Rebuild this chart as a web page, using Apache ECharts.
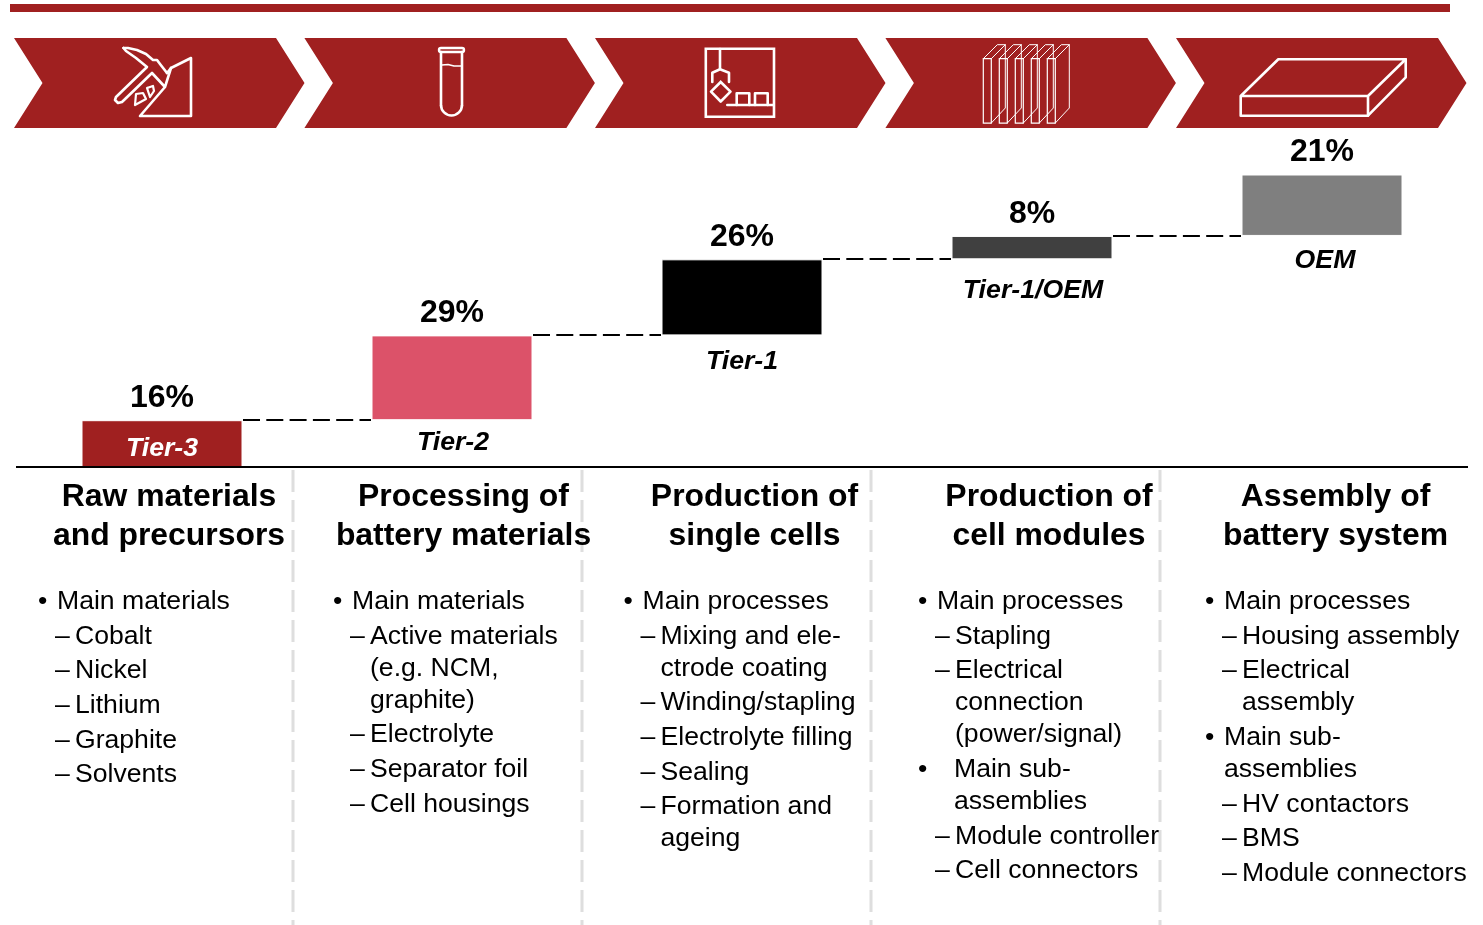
<!DOCTYPE html>
<html>
<head>
<meta charset="utf-8">
<style>html,body{margin:0;padding:0;background:#fff}#c{width:1483px;height:925px}</style>
<script src="https://cdn.jsdelivr.net/npm/echarts@6/dist/echarts.min.js"></script>
</head>
<body>
<div id="c"></div>
<script>
// ---- data ----
const categories = ['Tier-3', 'Tier-2', 'Tier-1', 'Tier-1/OEM', 'OEM'];
const shares = [16, 29, 26, 8, 21];
const barColors = ['#A02020', '#DC5269', '#000000', '#404040', '#7F7F7F'];
const headings = [
  ['Raw materials', 'and precursors'],
  ['Processing of', 'battery materials'],
  ['Production of', 'single cells'],
  ['Production of', 'cell modules'],
  ['Assembly of', 'battery system']
];
// [level, text]; level 0 = bullet, 1 = dash, 2 = continuation of dash, 3 = continuation of bullet, 4 = bullet with wide indent
const listRaw = [[0,'Main materials'],[1,'Cobalt'],[1,'Nickel'],[1,'Lithium'],[1,'Graphite'],[1,'Solvents']];
const listProcessing = [[0,'Main materials'],[1,'Active materials'],[2,'(e.g. NCM,'],[2,'graphite)'],[1,'Electrolyte'],[1,'Separator foil'],[1,'Cell housings']];
const listCells = [[0,'Main processes'],[1,'Mixing and ele-'],[2,'ctrode coating'],[1,'Winding/stapling'],[1,'Electrolyte filling'],[1,'Sealing'],[1,'Formation and'],[2,'ageing']];
const listModules = [[0,'Main processes'],[1,'Stapling'],[1,'Electrical'],[2,'connection'],[2,'(power/signal)'],[4,'Main sub-'],[3,'assemblies'],[1,'Module controller'],[1,'Cell connectors']];
const listSystem = [[0,'Main processes'],[1,'Housing assembly'],[1,'Electrical'],[2,'assembly'],[0,'Main sub-'],[3,'assemblies'],[1,'HV contactors'],[1,'BMS'],[1,'Module connectors']];

// ---- layout of text ----
const lists = [listRaw, listProcessing, listCells, listModules, listSystem];
const listY = [
  [602,637,671,706,741,775],
  [602,637,669,701,735,770,805],
  [602,637,669,703,738,773,807,839],
  [602,637,671,703,735,770,802,837,871],
  [602,637,671,703,738,770,805,839,874]
];
const listX = [38, 333, 623.5, 918, 1205];
const headingX = [169, 463.5, 754.5, 1049, 1335.5];
const tierPos = [[162,449,'#fff'],[453,443,'#000'],[742,362,'#000'],[1033,291,'#000'],[1325,261,'#000']];
const dividerX = [293, 582, 871, 1160];
const RED = '#A02020';
const FONT = '"Liberation Sans", Arial, sans-serif';

const cumulative = [];
shares.reduce((s, v, i) => (cumulative[i] = s + v), 0);
const bases = cumulative.map((c, i) => c - shares[i]);

const g = [];
const txt = (x, y, text, font, fill, align) => g.push({type:'text', silent:true, z:20, x, y,
  style:{text, font:font + ' ' + FONT, fill:fill || '#000', textAlign:align || 'left', textVerticalAlign:'middle'}});
const line = (pts, lw) => g.push({type:'polyline', silent:true, shape:{points:pts},
  style:{stroke:'#fff', fill:null, lineWidth:lw || 2.6, lineJoin:'round', lineCap:'round'}});

// top rule
g.push({type:'rect', silent:true, shape:{x:10,y:4,width:1440,height:8}, style:{fill:RED}});
// chevrons
[14, 304.4, 595, 885.4, 1176].forEach(x => g.push({type:'polygon', silent:true,
  shape:{points:[[x,38],[x+262,38],[x+290.5,83],[x+262,128],[x,128],[x+28.5,83]]}, style:{fill:RED}}));

// icon: pick and rock pile
line([[123.5,48],[128,48],[137,50],[146,54],[153,60],[157,60],[160,64],[167,73]]);
line([[123.5,48],[126,51],[136,58],[147,67],[116,97],[115,100],[118,103],[122,102],[152,73],[165,87],[140,116],[191,116],[191,58],[171,68],[165,87]]);
line([[167,73],[171,68]]);
line([[136,94],[143,93],[146,99],[135,105],[136,94]], 2.2);
line([[147,88],[153,86],[154,91],[150,97],[147,88]], 2.2);
// icon: test tube
g.push({type:'rect', silent:true, shape:{x:439,y:48,width:25,height:4,r:2}, style:{stroke:'#fff',fill:null,lineWidth:2.4}});
line([[441,52],[441,105]]);
line([[462,52],[462,105]]);
g.push({type:'arc', silent:true, shape:{cx:451.5,cy:105,r:10.5,startAngle:0,endAngle:Math.PI,clockwise:true}, style:{stroke:'#fff',fill:null,lineWidth:2.6}});
line([[442,65],[448,64.5],[454,66],[461,66]], 1.6);
// icon: cell production
g.push({type:'rect', silent:true, shape:{x:705.8,y:48.8,width:68.2,height:68}, style:{stroke:'#fff',fill:null,lineWidth:2.6}});
line([[720,49],[720,69]]);
line([[712.3,82],[712.3,72.7],[720,69.3],[729,72.7],[729,82]]);
line([[720.7,82],[730.5,91.7],[720.7,101.5],[711,91.7],[720.7,82]]);
line([[727.3,105],[773,105]]);
line([[736.7,105],[736.7,93.3],[749.3,93.3],[749.3,105]]);
line([[755,105],[755,93.3],[767.7,93.3],[767.7,105]]);
// icon: module stack
[983.3, 999.3, 1015.3, 1031.3, 1047.3].forEach(x => {
  g.push({type:'rect', silent:true, shape:{x,y:58.7,width:8,height:64.5}, style:{stroke:'#fff',fill:null,lineWidth:1.2}});
  line([[x,58.7],[x+14,44.7],[x+22,44.7],[x+8,58.7]], 1);
  line([[x+22,44.7],[x+22,108],[x+8,123]], 1);
});
// icon: battery pack
line([[1240.7,96],[1368,96],[1368,115.7],[1240.7,115.7],[1240.7,96],[1278.3,59.3],[1405.7,59.3],[1368,96]]);
line([[1405.7,59.3],[1405.7,77.3],[1368,115.7]]);

// tier labels
categories.forEach((c, i) => txt(tierPos[i][0], tierPos[i][1], c, 'italic bold 26.7px', tierPos[i][2], 'center'));
// column dividers
dividerX.forEach(x => g.push({type:'line', silent:true, shape:{x1:x,y1:470,x2:x,y2:925},
  style:{stroke:'#DEDEDE', lineWidth:3, lineDash:[22,8]}}));
// headings
headings.forEach((h, i) => {
  txt(headingX[i], 497, h[0], 'bold 31.9px', '#000', 'center');
  txt(headingX[i], 536, h[1], 'bold 31.9px', '#000', 'center');
});
// lists
lists.forEach((list, c) => list.forEach((row, r) => {
  const x0 = listX[c], y = listY[c][r], lv = row[0];
  if (lv === 0 || lv === 4) txt(x0, y, '\u2022', '26.6px');
  if (lv === 1) txt(x0 + 17, y, '\u2013', '26.6px');
  const tx = lv === 0 ? x0 + 19 : lv === 4 || lv === 3 ? x0 + (c === 3 ? 36 : 19) : x0 + 37;
  txt(tx, y, row[1], '26.6px');
}));

const chart = echarts.init(document.getElementById('c'), null, {renderer:'canvas'});
chart.setOption({
  animation:false,
  backgroundColor:'#fff',
  grid:{left:17, width:1450, top:174.5, height:292.5},
  xAxis:{type:'category', data:categories, z:5,
    axisLine:{show:true, lineStyle:{color:'#000', width:2, cap:'square'}},
    axisTick:{show:false}, axisLabel:{show:false}, splitLine:{show:false}},
  yAxis:{type:'value', min:0, max:100, show:false, splitLine:{show:false}},
  series:[
    {name:'base', type:'bar', stack:'s', barWidth:161, silent:true, data:bases,
      itemStyle:{color:'transparent'}, emphasis:{disabled:true}},
    {name:'share', type:'bar', stack:'s', barWidth:161, data:shares.map((v,i)=>({value:v,
        itemStyle:{color:barColors[i], borderColor:'#fff', borderWidth:1}})),
      label:{show:true, position:'top', distance:6, formatter:p=>p.value+'%',
        fontFamily:'"Liberation Sans", Arial, sans-serif', fontWeight:'bold', fontSize:32, color:'#000'}},
    {name:'connector', type:'custom', silent:true, z:3,
      data:cumulative.slice(0,-1).map((c,i)=>[i,c]),
      renderItem:(params, api)=>{
        const p = api.coord([api.value(0), api.value(1)]);
        const band = api.size([1,0])[0];
        const y = Math.round(p[1]);
        return {type:'line', shape:{x1:p[0]+81,y1:y,x2:p[0]+band-81,y2:y},
          style:{stroke:'#000', lineWidth:2, lineDash:[17,6.3], fill:null}};
      }}
  ],
  graphic:g
});
</script>
</body>
</html>
